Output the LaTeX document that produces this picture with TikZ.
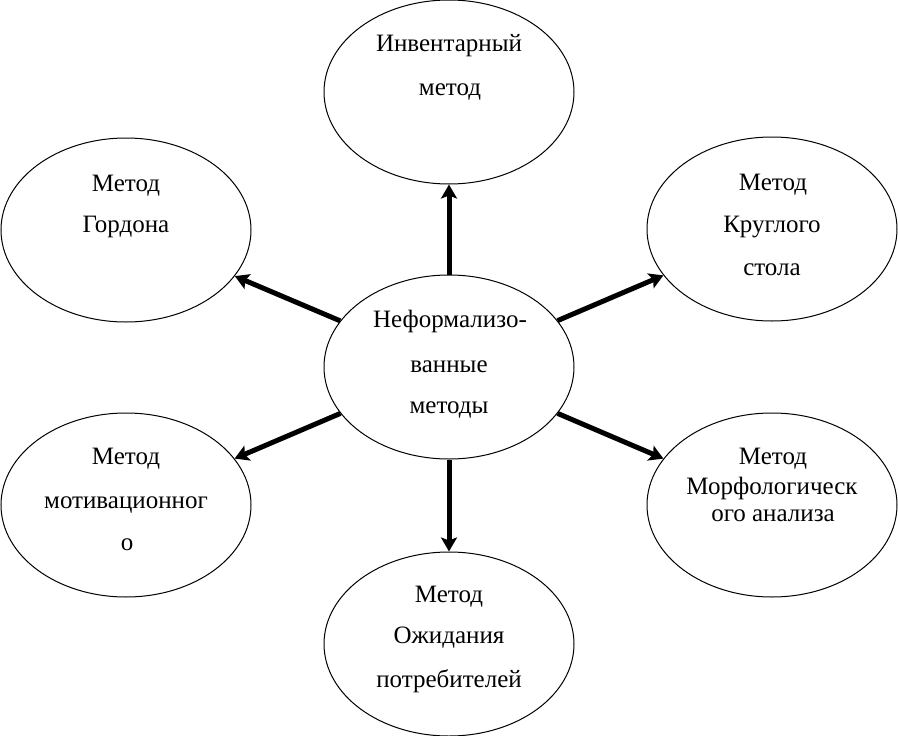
\documentclass[tikz,border=0pt]{standalone}
\usepackage{fontspec}
\setmainfont{Liberation Serif}
\usetikzlibrary{shapes.geometric,arrows.meta}
\begin{document}
\begin{tikzpicture}[x=1pt,y=-1pt,
  oval/.style={draw, ellipse, line width=1pt, minimum width=250pt, minimum height=184pt, inner sep=0pt},
  txt/.style={anchor=base, inner sep=0pt, font=\fontsize{25}{29}\selectfont},
  arr/.style={line width=5pt, -{Stealth[length=14pt,width=16pt,inset=3pt]}}]
\useasboundingbox (0,0) rectangle (898,736);
% ellipses
\node[oval] (c)   at (449,367) {};
\node[oval] (inv) at (449,92)  {};
\node[oval] (gor) at (126,230) {};
\node[oval] (kr)  at (772,229) {};
\node[oval] (mot) at (126,505) {};
\node[oval] (mor) at (772,505) {};
\node[oval] (ozh) at (449,644) {};
% texts
\node[txt] (c1) at (450,327) {Неформализо-};
\node[txt] (c2) at (449,372) {ванные};
\node[txt] (c3) at (449,413) {методы};
\node[txt] (inv1) at (449,52) {Инвентарный};
\node[txt] (inv2) at (450,95) {метод};
\node[txt] (gor1) at (126,191) {Метод};
\node[txt] (gor2) at (126,232) {Гордона};
\node[txt] (kr1) at (773,190) {Метод};
\node[txt] (kr2) at (772,232) {Круглого};
\node[txt] (kr3) at (772,275) {стола};
\node[txt] (mot1) at (126,464) {Метод};
\node[txt] (mot2) at (126,508) {мотивационног};
\node[txt] (mot3) at (127,550) {о};
\node[txt] (mor1) at (773,464) {Метод};
\node[txt] (mor2) at (772,494) {Морфологическ};
\node[txt] (mor3) at (773,521) {ого анализа};
\node[txt] (ozh1) at (449,602) {Метод};
\node[txt] (ozh2) at (449,643) {Ожидания};
\node[txt] (ozh3) at (449,687) {потребителей};
% arrows
\draw[arr] (c) -- (inv);
\draw[arr] (c) -- (gor);
\draw[arr] (c) -- (kr);
\draw[arr] (c) -- (mot);
\draw[arr] (c) -- (mor);
\draw[arr] (c) -- (ozh);
\end{tikzpicture}
\end{document}
